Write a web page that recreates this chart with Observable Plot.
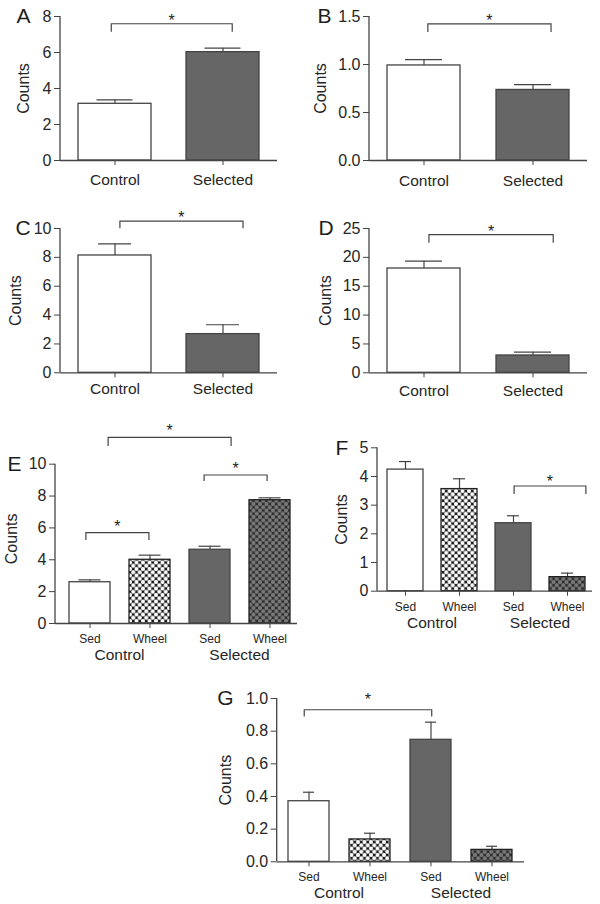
<!DOCTYPE html>
<html>
<head>
<meta charset="utf-8">
<script src="https://cdn.jsdelivr.net/npm/d3@7"></script>
<script src="https://cdn.jsdelivr.net/npm/@observablehq/plot@0.6"></script>
<style>
  html, body { margin: 0; padding: 0; background: #fff; }
  #fig { position: relative; width: 600px; height: 904px; background: #fff; overflow: hidden; }
</style>
</head>
<body>
<svg width="0" height="0" style="position:absolute">
  <defs>
    <pattern id="wheelCtrl" width="6.5" height="6.5" patternUnits="userSpaceOnUse">
      <rect width="6.5" height="6.5" fill="#111"/>
      <circle cx="0" cy="0" r="2.05" fill="#fff"/>
      <circle cx="6.5" cy="0" r="2.05" fill="#fff"/>
      <circle cx="0" cy="6.5" r="2.05" fill="#fff"/>
      <circle cx="6.5" cy="6.5" r="2.05" fill="#fff"/>
      <circle cx="3.25" cy="3.25" r="2.05" fill="#fff"/>
    </pattern>
    <pattern id="wheelSel" width="6.5" height="6.5" patternUnits="userSpaceOnUse">
      <rect width="6.5" height="6.5" fill="#2a2a2a"/>
      <circle cx="0" cy="0" r="2.05" fill="#7a7a7a"/>
      <circle cx="6.5" cy="0" r="2.05" fill="#7a7a7a"/>
      <circle cx="0" cy="6.5" r="2.05" fill="#7a7a7a"/>
      <circle cx="6.5" cy="6.5" r="2.05" fill="#7a7a7a"/>
      <circle cx="3.25" cy="3.25" r="2.05" fill="#7a7a7a"/>
    </pattern>
  </defs>
</svg>
<div id="fig"></div>
<script>
// ---------------- DATA ----------------
const catsTwo = ["Control", "Selected"];
const catsFour = ["Control Sed", "Control Wheel", "Selected Sed", "Selected Wheel"];
const groupNames = ["Control", "Selected"];
const yLabel = "Counts";

const meansA = [3.15, 6.02];   const semA = [0.22, 0.22];
const meansB = [0.99, 0.735];  const semB = [0.06, 0.055];
const meansC = [8.13, 2.68];   const semC = [0.81, 0.65];
const meansD = [18.07, 3.0];   const semD = [1.28, 0.57];
const meansE = [2.59, 4.0, 4.63, 7.74];     const semE = [0.15, 0.29, 0.22, 0.15];
const meansF = [4.24, 3.56, 2.37, 0.49];    const semF = [0.28, 0.36, 0.26, 0.14];
const meansG = [0.371, 0.137, 0.747, 0.073]; const semG = [0.055, 0.038, 0.108, 0.022];

const ticksA = [0, 2, 4, 6, 8];
const ticksB = [0, 0.5, 1.0, 1.5];
const ticksC = [0, 2, 4, 6, 8, 10];
const ticksD = [0, 5, 10, 15, 20, 25];
const ticksE = [0, 2, 4, 6, 8, 10];
const ticksF = [0, 1, 2, 3, 4, 5];
const ticksG = [0, 0.2, 0.4, 0.6, 0.8, 1.0];

// significance brackets: between categories, at a count level
const bracketsA = [{from: "Control", to: "Selected", y: 7.57}];
const bracketsB = [{from: "Control", to: "Selected", y: 1.417}];
const bracketsC = [{from: "Control", to: "Selected", y: 10.48}];
const bracketsD = [{from: "Control", to: "Selected", y: 23.85}];
const bracketsE = [
  {from: "Control Sed", to: "Selected Sed", y: 11.65},
  {from: "Selected Sed", to: "Selected Wheel", y: 9.29},
  {from: "Control Sed", to: "Control Wheel", y: 5.67}
];
const bracketsF = [{from: "Selected Sed", to: "Selected Wheel", y: 3.65}];
const bracketsG = [{from: "Control Sed", to: "Selected Sed", y: 0.928}];

// ---------------- STYLE / LAYOUT ----------------
const fontFamily = "'Liberation Sans', Arial, Helvetica, sans-serif";
const lineColor = "#444";
const textColor = "#262626";
const fill = {
  "Control": "#fff", "Selected": "#666",
  "Control Sed": "#fff", "Control Wheel": "url(#wheelCtrl)",
  "Selected Sed": "#666", "Selected Wheel": "url(#wheelSel)"
};
const stroke = {
  "Control": "#444", "Selected": "#444",
  "Control Sed": "#444", "Control Wheel": "#222",
  "Selected Sed": "#444", "Selected Wheel": "#222"
};
const f1 = d3.format(".1f");
const fInt = d3.format("d");

const panels = [
  {letter: "A", cats: catsTwo, means: meansA, sems: semA, ticks: ticksA, fmt: fInt, brackets: bracketsA,
   L: {left: 0, top: 0, w: 300, h: 200, mL: 60, mR: 23, mT: 16, mB: 40, pIn: 0.327, pOut: 0.1635, align: 0.5,
       cap: 18.5, xPad: 8, yLabDx: -37, yLabDy: 0, letDx: -44,
       nudge: [[-0.03, 0.09, 8, 7]]}},
  {letter: "B", cats: catsTwo, means: meansB, sems: semB, ticks: ticksB, fmt: f1, brackets: bracketsB,
   L: {left: 300, top: 0, w: 300, h: 200, mL: 69, mR: 13, mT: 16, mB: 40, pIn: 0.327, pOut: 0.1635, align: 0.5,
       cap: 18, xPad: 9, yLabDx: -48.7, yLabDy: 0, letDx: -52,
       nudge: [[0.04, 0.17, 8, 7]]}},
  {letter: "C", cats: catsTwo, means: meansC, sems: semC, ticks: ticksC, fmt: fInt, brackets: bracketsC,
   L: {left: 0, top: 200, w: 300, h: 200, mL: 60, mR: 23, mT: 28, mB: 27.7, pIn: 0.327, pOut: 0.1635, align: 0.5,
       cap: 20, xPad: 5.5, yLabDx: -45, yLabDy: 0, letDx: -45,
       nudge: [[0.05, 0.19, 7.3, 7]]}},
  {letter: "D", cats: catsTwo, means: meansD, sems: semD, ticks: ticksD, fmt: fInt, brackets: bracketsD,
   L: {left: 300, top: 200, w: 300, h: 200, mL: 69, mR: 13, mT: 28, mB: 27.7, pIn: 0.327, pOut: 0.1635, align: 0.5,
       cap: 18, xPad: 7.5, yLabDx: -44, yLabDy: 0, letDx: -51,
       nudge: [[0.05, 0.19, 8, 6.5]]}},
  {letter: "E", cats: catsFour, sub: true, means: meansE, sems: semE, ticks: ticksE, fmt: fInt, brackets: bracketsE,
   L: {left: 0, top: 400, w: 300, h: 270, mL: 55, mR: 3, mT: 63.7, mB: 47, pIn: 0.317, pOut: 0.175, align: 0.667,
       cap: 9.5, xPad: 6, yLabDx: -43.3, yLabDy: -5, letDx: -48,
       nudge: [[0.31, 0.36, 8.7, 11], [-0.09, -0.04, 6, 10.7], [-0.06, -0.01, 7.3, 9.7]]}},
  {letter: "F", cats: catsFour, sub: true, means: meansF, sems: semF, ticks: ticksF, fmt: fInt, brackets: bracketsF,
   L: {left: 300, top: 400, w: 300, h: 270, mL: 77, mR: 8, mT: 47.3, mB: 79.3, pIn: 0.333, pOut: 0.157, align: 0.59,
       cap: 12, xPad: 6, yLabDx: -36, yLabDy: 0, letDx: -42,
       nudge: [[0.02, 0.35, 8, 8.5]]}},
  {letter: "G", cats: catsFour, sub: true, means: meansG, sems: semG, ticks: ticksG, fmt: f1, brackets: bracketsG,
   L: {left: 150, top: 660, w: 400, h: 244, mL: 126.7, mR: 26, mT: 38, mB: 42.7, pIn: 0.331, pOut: 0.16, align: 0.5,
       cap: 15, xPad: 5.5, yLabDx: -51.4, yLabDy: 0, letDx: -60,
       nudge: [[-0.07, 0.02, 6.7, 14]]}}
];

const fig = document.getElementById("fig");

for (const P of panels) {
  const L = P.L;
  const rows = P.cats.map((c, i) => ({cat: c, mean: P.means[i], upper: P.means[i] + P.sems[i]}));
  const ymax = P.ticks[P.ticks.length - 1];
  const chart = Plot.plot({
    width: L.w, height: L.h,
    marginLeft: L.mL, marginRight: L.mR, marginTop: L.mT, marginBottom: L.mB,
    style: {fontFamily, color: textColor, background: "none", overflow: "visible"},
    x: {domain: P.cats, paddingInner: L.pIn, paddingOuter: L.pOut, align: L.align, axis: null},
    y: {domain: [0, ymax], axis: null},
    color: {type: "identity"},
    marks: [
      Plot.ruleX(rows, {x: "cat", y1: "mean", y2: "upper", stroke: lineColor, strokeWidth: 1.2}),
      Plot.tickY(rows, {x: "cat", y: "upper", insetLeft: L.cap, insetRight: L.cap, stroke: lineColor, strokeWidth: 1.2}),
      Plot.barY(rows, {x: "cat", y: "mean", fill: d => fill[d.cat], stroke: d => stroke[d.cat], strokeWidth: 1.3}),
      Plot.ruleY([0], {stroke: lineColor, strokeWidth: 1.3}),
      Plot.axisY({ticks: P.ticks, tickFormat: P.fmt, tickSize: 6, tickPadding: 3, fontSize: 16, label: null, stroke: lineColor, fill: textColor}),
      Plot.axisX({tickSize: 5, tickPadding: L.xPad, fontSize: P.sub ? 12 : 15.5,
                  tickFormat: P.sub ? (d => d.split(" ")[1]) : (d => d), label: null, stroke: lineColor, fill: textColor}),
      Plot.text([yLabel], {frameAnchor: "left", dx: L.yLabDx, dy: L.yLabDy, rotate: -90, textAnchor: "middle", lineAnchor: "middle", fontSize: 16, fill: textColor}),
      Plot.text([P.letter], {frameAnchor: "top-left", dx: L.letDx, textAnchor: "start", lineAnchor: "middle", fontSize: 21, fill: "#1e1e1e"})
    ]
  });

  const sx = chart.scale("x"), sy = chart.scale("y");
  const svg = d3.select(chart);
  const cx = c => sx.apply(c) + sx.bandwidth / 2;

  // y axis line
  svg.append("line")
    .attr("x1", L.mL).attr("x2", L.mL)
    .attr("y1", sy.apply(ymax)).attr("y2", sy.apply(0))
    .attr("stroke", lineColor).attr("stroke-width", 1.3);

  // significance brackets + stars
  P.brackets.forEach((b, i) => {
    const [o1, o2, drop, gap] = L.nudge[i];
    const x1 = cx(b.from) + o1 * sx.step, x2 = cx(b.to) + o2 * sx.step, yy = sy.apply(b.y);
    svg.append("path")
      .attr("d", `M${x1},${yy + drop}V${yy}H${x2}V${yy + drop}`)
      .attr("fill", "none").attr("stroke", lineColor).attr("stroke-width", 1.2);
    svg.append("text")
      .attr("x", (x1 + x2) / 2).attr("y", yy - gap + 0.58 * 16)
      .attr("text-anchor", "middle").attr("font-size", 16).attr("fill", "#222")
      .attr("font-family", fontFamily)
      .text("*");
  });

  // group labels under paired bars
  if (P.sub) {
    groupNames.forEach(g => {
      const x = (cx(g + " Sed") + cx(g + " Wheel")) / 2;
      svg.append("text")
        .attr("x", x).attr("y", sy.apply(0) + 26 + 0.71 * 15.5)
        .attr("text-anchor", "middle").attr("font-size", 15.5).attr("fill", textColor)
        .attr("font-family", fontFamily)
        .text(g);
    });
  }

  chart.style.position = "absolute";
  chart.style.left = L.left + "px";
  chart.style.top = L.top + "px";
  fig.appendChild(chart);
}
</script>
</body>
</html>
